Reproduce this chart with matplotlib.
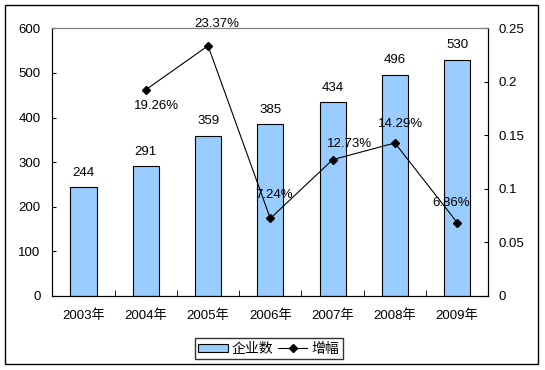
import numpy as np
import matplotlib
matplotlib.use("Agg")
import matplotlib.pyplot as plt
from matplotlib.patches import Rectangle, Patch
from matplotlib.lines import Line2D

plt.rcParams['font.family'] = ['Liberation Sans', 'Noto Sans CJK SC', 'DejaVu Sans']

years = ["2003年", "2004年", "2005年", "2006年", "2007年", "2008年", "2009年"]
counts = [244, 291, 359, 385, 434, 496, 530]
growth = [None, 0.1926, 0.2337, 0.0724, 0.1273, 0.1429, 0.0686]
growth_labels = ["", "19.26%", "23.37%", "7.24%", "12.73%", "14.29%", "6.86%"]
# label offsets in points (dx, dy) relative to each line point
label_offsets = [(0, 0), (8, -12), (6, 16), (3, 17), (12, 11), (4, 14), (-4, 14)]

fig = plt.figure(figsize=(5.45, 3.7), dpi=100)
ax = fig.add_axes([0.096, 0.2, 0.80, 0.7235])
ax2 = ax.twinx()

x = np.arange(len(years))
ax.bar(x, counts, width=0.42, color="#99ccff", edgecolor="black", linewidth=0.8, zorder=2)
for xi, c in zip(x, counts):
    ax.annotate(str(c), (xi, c), xytext=(0, 6), textcoords="offset points",
                ha="center", va="bottom", fontsize=9.5)

ax.set_xlim(-0.5, len(years) - 0.5)
ax.set_ylim(0, 600)
ax.set_yticks(range(0, 601, 100))
ax.set_xticks(x)
ax.set_xticklabels(years, fontsize=9.5)
ax.set_xticks(np.arange(-0.5, len(years), 1), minor=True)
ax.tick_params(axis="x", which="major", length=0, pad=10)
ax.tick_params(axis="x", which="minor", length=4, direction="in")
ax.tick_params(axis="y", length=3, direction="in", labelsize=9.5, pad=8.5)

gx = [xi for xi, g in zip(x, growth) if g is not None]
gy = [g for g in growth if g is not None]
ax2.plot(gx, gy, color="black", lw=0.8, marker="D", ms=4, zorder=3)
for xi, g, lab, off in zip(x, growth, growth_labels, label_offsets):
    if g is None:
        continue
    ax2.annotate(lab, (xi, g), xytext=off, textcoords="offset points",
                 ha="center", va="center", fontsize=9.5)
ax2.set_ylim(0, 0.25)
ax2.set_yticks([0, 0.05, 0.1, 0.15, 0.2, 0.25])
ax2.set_yticklabels(["0", "0.05", "0.1", "0.15", "0.2", "0.25"])
ax2.tick_params(axis="y", length=3, direction="in", labelsize=9.5, pad=7.5)

for a in (ax, ax2):
    a.spines["top"].set_color("#808080")
    for s in ("left", "right", "bottom"):
        a.spines[s].set_color("black")

handles = [Patch(facecolor="#99ccff", edgecolor="black", linewidth=0.8),
           Line2D([0], [0], color="black", lw=0.8, marker="D", ms=4)]
fig.legend(handles, ["企业数", "增幅"], loc="center", bbox_to_anchor=(0.4936, 0.0573),
           ncol=2, fontsize=10, frameon=True, fancybox=False, edgecolor="black",
           handlelength=2.1, handleheight=0.55, handletextpad=0.32, columnspacing=0.34,
           borderpad=0.25, borderaxespad=0)

fig.patches.append(Rectangle((0.0097, 0.0162), 0.977, 0.9695, transform=fig.transFigure,
                             fill=False, edgecolor="black", linewidth=1))

fig.savefig("out.png", dpi=100)
